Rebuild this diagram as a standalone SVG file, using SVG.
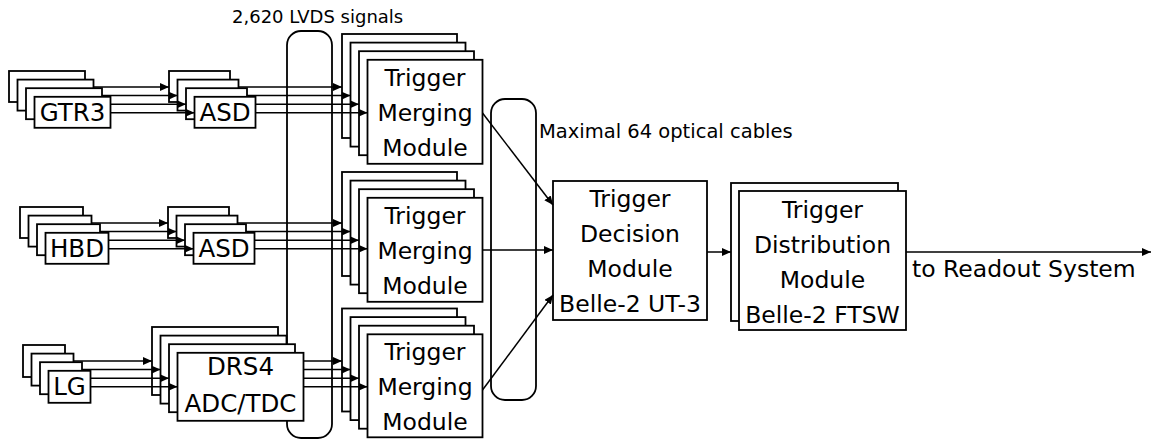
<svg xmlns="http://www.w3.org/2000/svg" width="1154" height="439" viewBox="0 0 1154 439">
<defs>
<marker id="ah" markerUnits="userSpaceOnUse" markerWidth="10" markerHeight="9" refX="9" refY="4" orient="auto">
<path d="M0,0 L9,4 L0,8 z" fill="#000"/>
</marker>
<style>
.b{fill:#fff;stroke:#000;stroke-width:1.8}
.r{fill:none;stroke:#000;stroke-width:1.8}
text{font-family:"DejaVu Sans","Liberation Sans",sans-serif;fill:#000}
.t{font-size:23.5px;text-anchor:middle}
.s{font-size:24.5px;text-anchor:middle}
.c line{stroke:#000;stroke-width:1.5;marker-end:url(#ah)}
</style>
</defs>
<rect fill="#fff" x="0" y="0" width="1154" height="439"/>
<g id="lvds-bundle"><rect class="r" x="287" y="31" width="45" height="407" rx="14"/></g>
<g id="optical-bundle"><rect class="r" x="491" y="99" width="45" height="301" rx="14"/></g>
<text x="232" y="23" font-size="18">2,620 LVDS signals</text>
<text x="539" y="138" font-size="19.5">Maximal 64 optical cables</text>
<text x="912" y="277" font-size="23.5">to Readout System</text>

<g id="gtr3">
<rect class="b" x="9" y="71" width="76" height="31"/>
<rect class="b" x="17.5" y="79.6" width="76" height="31"/>
<rect class="b" x="26" y="88.2" width="76" height="31"/>
<rect class="b" x="34.5" y="96.8" width="76" height="31"/><text class="s" x="72.5" y="120.8">GTR3</text>
</g>
<g id="asd-top">
<rect class="b" x="169" y="71" width="61" height="31"/>
<rect class="b" x="177.5" y="79.6" width="61" height="31"/>
<rect class="b" x="186" y="88.2" width="61" height="31"/>
<rect class="b" x="194.5" y="96.8" width="61" height="31"/><text class="s" x="225" y="120.8">ASD</text>
</g>
<g id="hbd">
<rect class="b" x="20" y="207" width="63" height="31"/>
<rect class="b" x="28.5" y="215.6" width="63" height="31"/>
<rect class="b" x="37" y="224.2" width="63" height="31"/>
<rect class="b" x="45.5" y="232.8" width="63" height="31"/><text class="s" x="77" y="256.8">HBD</text>
</g>
<g id="asd-mid">
<rect class="b" x="168" y="207" width="61" height="31"/>
<rect class="b" x="176.5" y="215.6" width="61" height="31"/>
<rect class="b" x="185" y="224.2" width="61" height="31"/>
<rect class="b" x="193.5" y="232.8" width="61" height="31"/><text class="s" x="224" y="256.8">ASD</text>
</g>
<g id="lg">
<rect class="b" x="23" y="345" width="42" height="32"/>
<rect class="b" x="31.5" y="353.6" width="42" height="32"/>
<rect class="b" x="40" y="362.2" width="42" height="32"/>
<rect class="b" x="48.5" y="370.8" width="42" height="32"/><text class="s" x="69.5" y="395.3">LG</text>
</g>
<g id="drs4">
<rect class="b" x="152" y="327" width="126" height="68"/>
<rect class="b" x="160.5" y="335.6" width="126" height="68"/>
<rect class="b" x="169" y="344.2" width="126" height="68"/>
<rect class="b" x="177.5" y="352.8" width="126" height="68"/><text class="s" x="240.5" y="375.3">DRS4</text><text class="s" x="240.5" y="412.3">ADC/TDC</text>
</g>
<g id="merging-1">
<rect class="b" x="342" y="34" width="115" height="104"/>
<rect class="b" x="350.5" y="42.6" width="115" height="104"/>
<rect class="b" x="359" y="51.2" width="115" height="104"/>
<rect class="b" x="367.5" y="59.8" width="115" height="104"/><text class="t" x="425" y="85.8">Trigger</text><text class="t" x="425" y="120.8">Merging</text><text class="t" x="425" y="155.8">Module</text>
</g>
<g id="merging-2">
<rect class="b" x="342" y="172" width="115" height="104"/>
<rect class="b" x="350.5" y="180.6" width="115" height="104"/>
<rect class="b" x="359" y="189.2" width="115" height="104"/>
<rect class="b" x="367.5" y="197.8" width="115" height="104"/><text class="t" x="425" y="223.8">Trigger</text><text class="t" x="425" y="258.8">Merging</text><text class="t" x="425" y="293.8">Module</text>
</g>
<g id="merging-3">
<rect class="b" x="342" y="308.5" width="115" height="103"/>
<rect class="b" x="350.5" y="317.1" width="115" height="103"/>
<rect class="b" x="359" y="325.7" width="115" height="103"/>
<rect class="b" x="367.5" y="334.3" width="115" height="103"/><text class="t" x="425" y="360.3">Trigger</text><text class="t" x="425" y="395.3">Merging</text><text class="t" x="425" y="430.3">Module</text>
</g>
<g id="decision">
<rect class="b" x="553" y="181" width="154" height="139"/>
<text class="t" x="630" y="207">Trigger</text><text class="t" x="630" y="242">Decision</text><text class="t" x="630" y="277">Module</text><text class="t" x="630" y="312">Belle-2 UT-3</text>
</g>
<g id="distribution">
<rect class="b" x="731" y="183" width="167" height="138"/>
<rect class="b" x="739" y="191" width="167" height="139"/>
<text class="t" x="822.5" y="218">Trigger</text><text class="t" x="822.5" y="253">Distribution</text><text class="t" x="822.5" y="288">Module</text><text class="t" x="822.5" y="323">Belle-2 FTSW</text>
</g>

<g id="connectors" class="c">
<line x1="93.5" y1="87" x2="169" y2="87"/>
<line x1="102" y1="95.6" x2="177.5" y2="95.6"/>
<line x1="110.5" y1="104.2" x2="186" y2="104.2"/>
<line x1="110.5" y1="112.8" x2="194.5" y2="112.8"/>
<line x1="238.5" y1="87" x2="342" y2="87"/>
<line x1="247" y1="95.6" x2="350.5" y2="95.6"/>
<line x1="255.5" y1="104.2" x2="359" y2="104.2"/>
<line x1="255.5" y1="112.8" x2="367.5" y2="112.8"/>
<line x1="91.5" y1="223" x2="168" y2="223"/>
<line x1="100" y1="231.6" x2="176.5" y2="231.6"/>
<line x1="108.5" y1="240.2" x2="185" y2="240.2"/>
<line x1="108.5" y1="248.8" x2="193.5" y2="248.8"/>
<line x1="237.5" y1="223" x2="342" y2="223"/>
<line x1="246" y1="231.6" x2="350.5" y2="231.6"/>
<line x1="254.5" y1="240.2" x2="359" y2="240.2"/>
<line x1="254.5" y1="248.8" x2="367.5" y2="248.8"/>
<line x1="73.5" y1="361" x2="152" y2="361"/>
<line x1="82" y1="369.6" x2="160.5" y2="369.6"/>
<line x1="90.5" y1="378.2" x2="169" y2="378.2"/>
<line x1="90.5" y1="386.8" x2="177.5" y2="386.8"/>
<line x1="303.5" y1="361" x2="342" y2="361"/>
<line x1="303.5" y1="369.6" x2="350.5" y2="369.6"/>
<line x1="303.5" y1="378.2" x2="359" y2="378.2"/>
<line x1="303.5" y1="386.8" x2="367.5" y2="386.8"/>
<line x1="482.5" y1="113" x2="553" y2="205"/>
<line x1="482.5" y1="250" x2="553" y2="250"/>
<line x1="482.5" y1="390" x2="553" y2="295"/>
<line x1="707" y1="252" x2="731" y2="252"/>
<line x1="906" y1="252" x2="1151" y2="252"/>
</g>
</svg>
